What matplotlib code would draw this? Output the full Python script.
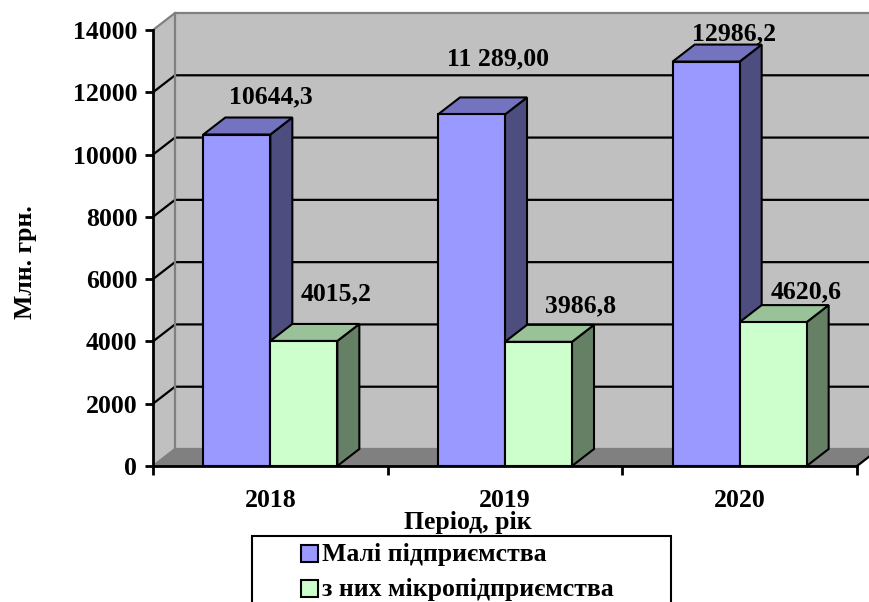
import matplotlib
matplotlib.use("Agg")
import matplotlib.pyplot as plt
from matplotlib.patches import Polygon, Rectangle

plt.rcParams['font.family'] = ['Liberation Serif', 'DejaVu Serif']
plt.rcParams['font.weight'] = 'bold'

# ---- data ----
years = ["2018", "2019", "2020"]
small = [10644.3, 11289.00, 12986.2]
micro = [4015.2, 3986.8, 4620.6]
small_labels = ["10644,3", "11 289,00", "12986,2"]
micro_labels = ["4015,2", "3986,8", "4620,6"]
series_names = ["Малі підприємства", "з них мікропідприємства"]
yticks = [0, 2000, 4000, 6000, 8000, 10000, 12000, 14000]

# ---- style ----
W, H = 870, 602
FS = 18.5
blue = ("#9999FF", "#7373BF", "#4D4D80")   # front, top, side
green = ("#CCFFCC", "#99C299", "#668066")
wall = "#C0C0C0"
floor = "#808080"
px_per_cat = 704 / 3.0
px_per_unit = 436 / 14000.0
DX = 22 / px_per_cat
DY = 17 / px_per_unit
BW = 67 / px_per_cat
small_off = [(24.5, 22.7), (19.4, 35.6), (20.2, 15.6)]
micro_off = [(23.0, 29.5), (30.2, 20.9), (23.8, 17.3)]

def fx(p): return p / W
def fy(p): return 1 - p / H

fig = plt.figure(figsize=(W / 100, H / 100), dpi=100)
ax = fig.add_axes([fx(153), fy(466), (870 - 153) / W, (466 - 10) / H])
x0, x1 = -0.5, len(years) - 0.5
ax.set_xlim(x0, x0 + (870 - 153) / px_per_cat)
ax.set_ylim(0, (466 - 10) / px_per_unit)
ax.patch.set_visible(False)

ytop = yticks[-1]
# walls
ax.add_patch(Polygon([(x0 + DX, DY), (x1 + DX + 1, DY), (x1 + DX + 1, ytop + DY), (x0 + DX, ytop + DY)],
                     closed=True, facecolor=wall, edgecolor="none", zorder=0))
ax.add_patch(Polygon([(x0, 0), (x0 + DX, DY), (x0 + DX, ytop + DY), (x0, ytop)],
                     closed=True, facecolor=wall, edgecolor="none", zorder=0))
ax.add_patch(Polygon([(x0, 0), (x1, 0), (x1 + DX, DY), (x0 + DX, DY)],
                     closed=True, facecolor=floor, edgecolor="none", zorder=0.5))
# gridlines
for v in yticks:
    col = "#808080" if v in (0, ytop) else "black"
    ax.plot([x0, x0 + DX, x1 + DX + 1], [v, v + DY, v + DY], color=col, lw=1.6, zorder=1,
            solid_joinstyle="miter")
ax.plot([x0 + DX, x0 + DX], [DY, ytop + DY], color="#808080", lw=1.6, zorder=1)
ax.plot([x1, x1 + DX], [0, DY], color="black", lw=1.6, zorder=1)

def bar3d(xl, h, cols, z):
    xr = xl + BW
    ax.add_patch(Polygon([(xr, 0), (xr + DX, DY), (xr + DX, h + DY), (xr, h)], closed=True,
                         facecolor=cols[2], edgecolor="black", lw=1.5, zorder=z, joinstyle="miter"))
    ax.add_patch(Polygon([(xl, h), (xr, h), (xr + DX, h + DY), (xl + DX, h + DY)], closed=True,
                         facecolor=cols[1], edgecolor="black", lw=1.5, zorder=z, joinstyle="miter"))
    ax.bar([xl], [h], width=BW, align="edge", color=cols[0], edgecolor="black", lw=1.5, zorder=z)

z = 2
for i in range(len(years)):
    bar3d(i - BW, small[i], blue, z); z += 1
    bar3d(i, micro[i], green, z); z += 1
    ax.annotate(small_labels[i], (i - BW / 2, small[i]), xytext=small_off[i], textcoords="offset points",
                ha="center", va="baseline", fontsize=FS, fontweight="bold", zorder=20)
    ax.annotate(micro_labels[i], (i + BW / 2, micro[i]), xytext=micro_off[i], textcoords="offset points",
                ha="center", va="baseline", fontsize=FS, fontweight="bold", zorder=20)

# axes
for s in ("top", "right"):
    ax.spines[s].set_visible(False)
ax.spines["left"].set_bounds(0, ytop)
ax.spines["bottom"].set_bounds(x0, x1)
ax.spines["left"].set_linewidth(2)
ax.spines["bottom"].set_linewidth(2)
ax.spines["left"].set_zorder(30)
ax.spines["bottom"].set_zorder(30)
ax.set_yticks(yticks)
ax.set_yticklabels([str(v) for v in yticks], fontsize=FS, fontweight="bold")
ax.tick_params(axis="y", length=5.8, width=2, pad=5.5)
ax.set_xticks([x0 + k for k in range(len(years) + 1)])
ax.set_xticklabels([])
ax.tick_params(axis="x", which="major", length=6.5, width=2)
ax.set_xticks(range(len(years)), minor=True)
ax.set_xticklabels(years, minor=True, fontsize=FS, fontweight="bold")
ax.tick_params(axis="x", which="minor", length=0, pad=16.5)

fig.text(fx(468), fy(523), "Період, рік", ha="center", va="center", fontsize=FS, fontweight="bold")
fig.text(fx(26), fy(262), "Млн. грн.", ha="center", va="center", rotation=90, fontsize=FS, fontweight="bold")

# legend box
fig.add_artist(Rectangle((fx(252), fy(615)), (671 - 252) / W, (615 - 536) / H, transform=fig.transFigure,
                         facecolor="white", edgecolor="black", lw=1.5, zorder=5))
for k, (name, cols) in enumerate(zip(series_names, (blue, green))):
    cy = 553 + 35 * k
    fig.add_artist(Rectangle((fx(301), fy(cy + 8.5)), 17 / W, 17 / H, transform=fig.transFigure,
                             facecolor=cols[0], edgecolor="black", lw=1.5, zorder=6))
    fig.text(fx(322), fy(cy + 1.5), name, ha="left", va="center", fontsize=FS, fontweight="bold", zorder=7)

fig.savefig("out.png", dpi=100)
